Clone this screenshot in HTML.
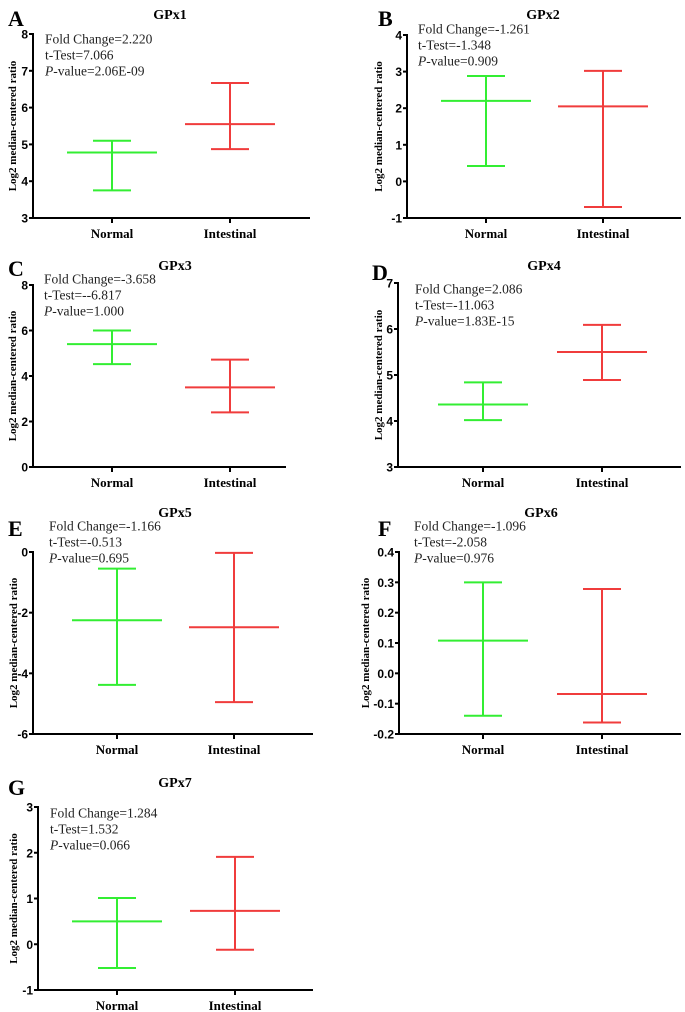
<!DOCTYPE html>
<html><head><meta charset="utf-8">
<style>
html,body{margin:0;padding:0;background:#fff;}
svg{display:block;}
</style></head>
<body>
<svg id="fig" width="685" height="1012" viewBox="0 0 685 1012" xmlns="http://www.w3.org/2000/svg"></svg>
<script>
// ---- data ----
const geneNames = ["GPx1","GPx2","GPx3","GPx4","GPx5","GPx6","GPx7"];
const panelLetters = ["A","B","C","D","E","F","G"];
const categories = ["Normal","Intestinal"];
const medianNormal = [4.78, 2.20, 5.40, 4.36, -2.25, 0.108, 0.50];
const lowNormal    = [3.75, 0.42, 4.52, 4.02, -4.38, -0.140, -0.52];
const highNormal   = [5.10, 2.88, 6.00, 4.84, -0.55, 0.300, 1.01];
const medianIntestinal = [5.55, 2.05, 3.50, 5.50, -2.48, -0.068, 0.73];
const lowIntestinal    = [4.87, -0.70, 2.40, 4.89, -4.95, -0.162, -0.12];
const highIntestinal   = [6.67, 3.02, 4.72, 6.09, -0.03, 0.278, 1.91];
const yMinValues = [3, -1, 0, 3, -6, -0.2, -1];
const yMaxValues = [8, 4, 8, 7, 0, 0.4, 3];
const tickLabels = [
  ["3","4","5","6","7","8"],
  ["-1","0","1","2","3","4"],
  ["0","2","4","6","8"],
  ["3","4","5","6","7"],
  ["-6","-4","-2","0"],
  ["-0.2","-0.1","0.0","0.1","0.2","0.3","0.4"],
  ["-1","0","1","2","3"]
];
const foldChanges = ["2.220","-1.261","-3.658","2.086","-1.166","-1.096","1.284"];
const tTests = ["7.066","-1.348","-6.817","-11.063","-0.513","-2.058","1.532"];
const tTestPrefix = ["t-Test=","t-Test=","t-Test=-","t-Test=","t-Test=","t-Test=","t-Test="];
const pValues = ["2.06E-09","0.909","1.000","1.83E-15","0.695","0.976","0.066"];

// ---- layout (geometry, not data) ----
const layout = [
  {ax:33, top:34, bot:218, xe:310, nx:112, ix:230, tx:170, ty:14, lx:8, ly:18, sx:45, sy:39, yo:21},
  {ax:407,top:35, bot:218, xe:681, nx:486, ix:603, tx:543, ty:14, lx:378,ly:18, sx:418,sy:29, yo:29},
  {ax:33, top:285,bot:467, xe:286, nx:112, ix:230, tx:175, ty:265,lx:8, ly:268,sx:44, sy:279, yo:21},
  {ax:398,top:283,bot:467, xe:681, nx:483, ix:602, tx:544, ty:265,lx:372,ly:272,sx:415,sy:289, yo:20},
  {ax:33, top:552,bot:734, xe:313, nx:117, ix:234, tx:175, ty:512,lx:8, ly:528,sx:49, sy:526, yo:20},
  {ax:399,top:552,bot:734, xe:681, nx:483, ix:602, tx:541, ty:512,lx:378,ly:528,sx:414,sy:526, yo:34},
  {ax:38, top:807,bot:990, xe:313, nx:117, ix:235, tx:175, ty:782,lx:8, ly:787,sx:50, sy:813, yo:25}
];

const NS = "http://www.w3.org/2000/svg";
const svg = document.getElementById('fig');
function mk(tag, attrs, parent){
  const e = document.createElementNS(NS, tag);
  for (const k in attrs) e.setAttribute(k, attrs[k]);
  (parent||svg).appendChild(e);
  return e;
}
const HALF_MED = 45, HALF_CAP = 19;

for (let i=0;i<7;i++){
  const L = layout[i];
  const g = mk('g',{});
  
  
  const y = v => L.bot - (v - yMinValues[i])/(yMaxValues[i]-yMinValues[i])*(L.bot-L.top);

  const letter = mk('text',{x:L.lx,y:L.ly+8,'font-family':'Liberation Serif, serif','font-weight':'bold','font-size':'22'},g);
  letter.textContent = panelLetters[i];
  
  

  const title = mk('text',{x:L.tx,y:L.ty+5,'text-anchor':'middle','font-family':'Liberation Serif, serif','font-weight':'bold','font-size':'14'},g);
  title.textContent = geneNames[i];
  
  

  const ya = mk('line',{x1:L.ax,y1:L.top-1,x2:L.ax,y2:L.bot+1,stroke:'#000','stroke-width':2},g);
  
  
  const xa = mk('line',{x1:L.ax-1,y1:L.bot,x2:L.xe,y2:L.bot,stroke:'#000','stroke-width':2},g);
  
  

  const ticks = tickLabels[i];
  for (let t=0;t<ticks.length;t++){
    const v = parseFloat(ticks[t]);
    const yy = y(v);
    mk('line',{x1:L.ax-4,y1:yy,x2:L.ax,y2:yy,stroke:'#000','stroke-width':2},g);
    const tl = mk('text',{x:L.ax-5,y:yy+4.5,'text-anchor':'end','font-family':'Liberation Sans, sans-serif','font-weight':'bold','font-size':'12'},g);
    tl.textContent = ticks[t];
    
    
  }
  const cy = (L.top+L.bot)/2, tx = L.ax-L.yo;
  const yt = mk('text',{x:tx,y:cy+4,'text-anchor':'middle','font-family':'Liberation Serif, serif','font-weight':'bold','font-size':'11',transform:`rotate(-90 ${tx} ${cy})`},g);
  yt.textContent = 'Log2 median-centered ratio';
  
  

  const xs = [L.nx, L.ix];
  for (let c=0;c<2;c++){
    mk('line',{x1:xs[c],y1:L.bot,x2:xs[c],y2:L.bot+5,stroke:'#000','stroke-width':2},g);
    const xl = mk('text',{x:xs[c],y:L.bot+20,'text-anchor':'middle','font-family':'Liberation Serif, serif','font-weight':'bold','font-size':'13'},g);
    xl.textContent = categories[c];
    
    
  }

  const meds = [medianNormal[i], medianIntestinal[i]];
  const lows = [lowNormal[i], lowIntestinal[i]];
  const highs = [highNormal[i], highIntestinal[i]];
  const cols = ['#33ee33','#f03c3c'];
  for (let c=0;c<2;c++){
    const bg = mk('g',{stroke:cols[c],'stroke-width':2,fill:'none'},g);
    
    
    const x0 = xs[c];
    mk('line',{x1:x0,y1:y(lows[c]),x2:x0,y2:y(highs[c])},bg);
    mk('line',{x1:x0-HALF_CAP,y1:y(lows[c]),x2:x0+HALF_CAP,y2:y(lows[c])},bg);
    mk('line',{x1:x0-HALF_CAP,y1:y(highs[c]),x2:x0+HALF_CAP,y2:y(highs[c])},bg);
    mk('line',{x1:x0-HALF_MED,y1:y(meds[c]),x2:x0+HALF_MED,y2:y(meds[c])},bg);
  }

  const st = mk('text',{'font-family':'Liberation Serif, serif','font-size':'13.5',fill:'#222'},g);
  
  
  const l1 = mk('tspan',{x:L.sx,y:L.sy+4.5},st); l1.textContent = 'Fold Change=' + foldChanges[i];
  const l2 = mk('tspan',{x:L.sx,y:L.sy+20.5},st); l2.textContent = tTestPrefix[i] + tTests[i];
  const l3a = mk('tspan',{x:L.sx,y:L.sy+36.5,'font-style':'italic'},st); l3a.textContent = 'P';
  const l3b = mk('tspan',{},st); l3b.textContent = '-value=' + pValues[i];
}
</script>
</body></html>
